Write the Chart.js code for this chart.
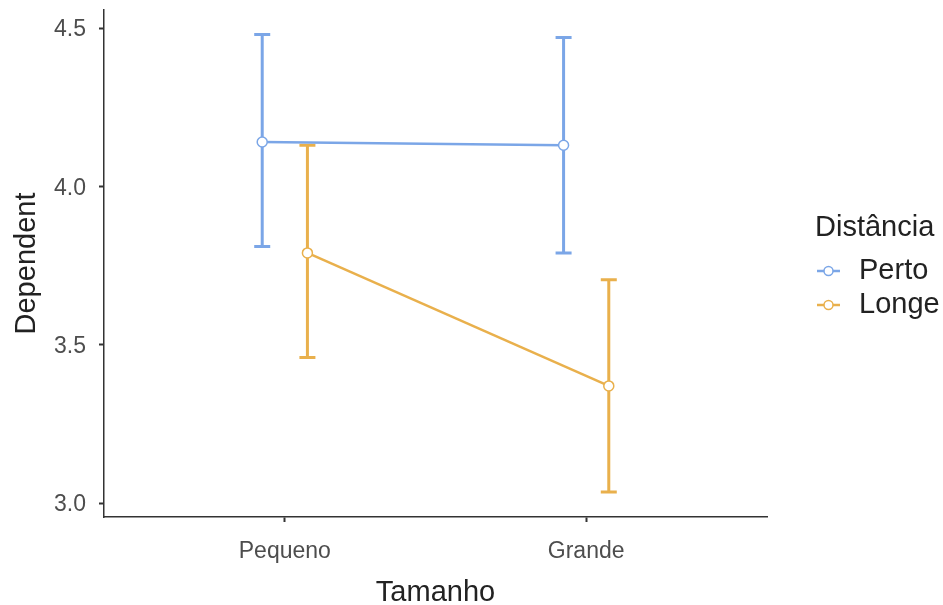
<!DOCTYPE html>
<html lang="en">
<head>
  <meta charset="UTF-8">
  <title>Chart</title>
  <script src="https://cdn.jsdelivr.net/npm/chart.js@4.4.1/dist/chart.umd.min.js"></script>
  <style>
    body { margin: 0; background: #fff; }
  </style>
</head>
<body>
  <canvas id="chart" width="943" height="605"></canvas>

  <script>
    const categories = ['Pequeno', 'Grande'];
    const seriesNames = ['Perto', 'Longe'];
    const pertoMean = [4.14, 4.13];
    const pertoLow = [3.81, 3.79];
    const pertoHigh = [4.48, 4.47];
    const longeMean = [3.79, 3.37];
    const longeLow = [3.46, 3.035];
    const longeHigh = [4.13, 3.705];
    const yTicks = [3.0, 3.5, 4.0, 4.5];

    const colors = ['#7ba6e7', '#e9b04c'];
    const dodge = [-0.075, 0.075];
    const FONT = '"Liberation Sans", Arial, sans-serif';

    function toPoints(means, lows, highs, off) {
      return means.map((m, i) => ({ x: i + 1 + off, y: m, lo: lows[i], hi: highs[i] }));
    }

    const errorBars = {
      id: 'errorBars',
      beforeDatasetsDraw(chart) {
        const ctx = chart.ctx;
        const xs = chart.scales.x, ys = chart.scales.y;
        chart.data.datasets.forEach(ds => {
          ctx.save();
          ctx.strokeStyle = ds.borderColor;
          ctx.lineWidth = 3;
          ds.data.forEach(p => {
            const x = xs.getPixelForValue(p.x);
            const y1 = ys.getPixelForValue(p.lo);
            const y2 = ys.getPixelForValue(p.hi);
            ctx.beginPath();
            ctx.moveTo(x, y1); ctx.lineTo(x, y2);
            ctx.moveTo(x - 8, y1); ctx.lineTo(x + 8, y1);
            ctx.moveTo(x - 8, y2); ctx.lineTo(x + 8, y2);
            ctx.stroke();
          });
          ctx.restore();
        });
      }
    };

    const legendBox = {
      id: 'legendBox',
      afterDraw(chart) {
        const ctx = chart.ctx;
        ctx.save();
        ctx.fillStyle = '#222';
        ctx.font = '29px ' + FONT;
        ctx.textBaseline = 'middle';
        ctx.fillText('Distância', 815, 228);
        chart.data.datasets.forEach((ds, i) => {
          const y = 271 + i * 34;
          ctx.strokeStyle = ds.borderColor;
          ctx.lineWidth = 2.5;
          ctx.beginPath();
          ctx.moveTo(817, y); ctx.lineTo(840, y);
          ctx.stroke();
          ctx.beginPath();
          ctx.arc(828.5, y, 4.5, 0, Math.PI * 2);
          ctx.fillStyle = '#fff';
          ctx.fill();
          ctx.lineWidth = 1.5;
          ctx.stroke();
          ctx.fillStyle = '#222';
          ctx.fillText(ds.label, 859, y);
        });
        ctx.restore();
      }
    };

    const context = document.getElementById('chart').getContext('2d');
    const chart = new Chart(context, {
      type: 'line',
      data: {
        datasets: [
          {
            label: seriesNames[0],
            data: toPoints(pertoMean, pertoLow, pertoHigh, dodge[0]),
            borderColor: colors[0],
            backgroundColor: '#fff',
            borderWidth: 2.5,
            pointRadius: 5,
            pointBorderWidth: 1.5,
            pointBackgroundColor: '#fff',
            pointBorderColor: colors[0]
          },
          {
            label: seriesNames[1],
            data: toPoints(longeMean, longeLow, longeHigh, dodge[1]),
            borderColor: colors[1],
            backgroundColor: '#fff',
            borderWidth: 2.5,
            pointRadius: 5,
            pointBorderWidth: 1.5,
            pointBackgroundColor: '#fff',
            pointBorderColor: colors[1]
          }
        ]
      },
      options: {
        responsive: false,
        animation: false,
        layout: { padding: { top: 10, right: 176, left: 0, bottom: 0 } },
        plugins: {
          legend: { display: false },
          tooltip: { enabled: false }
        },
        scales: {
          x: {
            type: 'linear',
            min: 0.4,
            max: 2.6,
            afterBuildTicks: s => { s.ticks = categories.map((c, i) => ({ value: i + 1 })); },
            afterFit: s => { s.height = 88; s.paddingLeft = 0; s.paddingRight = 0; },
            ticks: {
              callback: v => categories[v - 1],
              color: '#4d4d4d',
              font: { size: 23, family: FONT },
              padding: 16,
              maxRotation: 0
            },
            grid: { drawOnChartArea: false, drawTicks: true, tickLength: 5, tickColor: '#333', tickWidth: 2 },
            border: { display: true, color: '#333', width: 1.5 },
            title: {
              display: true,
              text: 'Tamanho',
              color: '#222',
              font: { size: 29, family: FONT, lineHeight: 0.8 },
              padding: { top: 0, bottom: 0 }
            }
          },
          y: {
            min: 2.956,
            max: 4.557,
            afterBuildTicks: s => { s.ticks = yTicks.map(v => ({ value: v })); },
            afterFit: s => { s.width = 104; s.paddingTop = 0; s.paddingBottom = 0; },
            ticks: {
              callback: v => v.toFixed(1),
              color: '#4d4d4d',
              font: { size: 23, family: FONT },
              padding: 13,
              labelOffset: 2
            },
            grid: { drawOnChartArea: false, drawTicks: true, tickLength: 5, tickColor: '#333', tickWidth: 2 },
            border: { display: true, color: '#333', width: 1.5 },
            title: {
              display: true,
              text: 'Dependent',
              color: '#222',
              font: { size: 29, family: FONT, lineHeight: 1 },
              padding: { top: 12, bottom: 0 }
            }
          }
        }
      },
      plugins: [errorBars, legendBox]
    });
  </script>
</body>
</html>
